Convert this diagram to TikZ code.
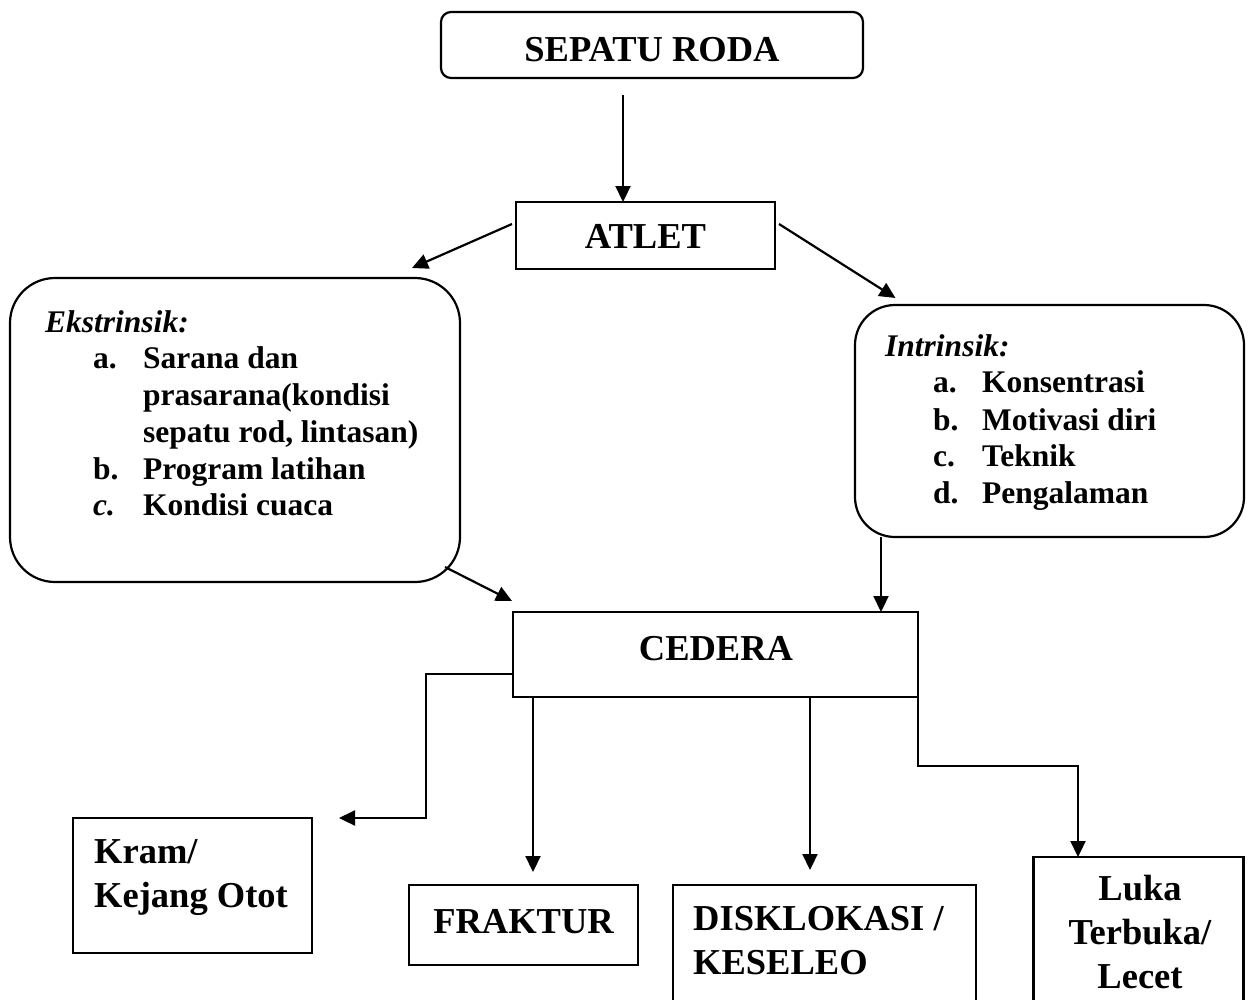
\documentclass[tikz,border=0pt]{standalone}
\usepackage{fontspec}
\setmainfont{Liberation Serif}
\usetikzlibrary{arrows.meta,calc}
\tikzset{
  frame/.style={draw, line width=2.2pt, inner sep=0pt, outer sep=0pt},
  hd/.style={font=\fontsize{36.5}{44}\selectfont\bfseries, inner sep=0pt, anchor=base},
  ls/.style={font=\fontsize{31.5}{37}\selectfont\bfseries, inner sep=0pt, anchor=base west},
  arr/.style={line width=2.2pt, -{Triangle[length=16pt,width=15pt]}},
}
\begin{document}
\begin{tikzpicture}[x=1pt,y=-1pt]
\useasboundingbox (0,0) rectangle (1248,999);
\clip (0,0) rectangle (1248,999);
% boxes
\node[frame, rounded corners=10pt, minimum width=422pt, minimum height=66pt] (top) at (652,45) {};
\node[hd] (ttop) at (652,61) {SEPATU RODA};
\node[frame, minimum width=259pt, minimum height=67pt] (atlet) at (645.5,235.5) {};
\node[hd] (tatlet) at (645.5,248) {ATLET};
\node[frame, rounded corners=45pt, minimum width=450pt, minimum height=304pt] (ekst) at (235,430) {};
\node[frame, rounded corners=40pt, minimum width=389pt, minimum height=232pt] (intr) at (1049.5,421) {};
\node[frame, minimum width=405pt, minimum height=85pt] (cedera) at (715.5,654.5) {};
\node[hd] (tced) at (716,660) {CEDERA};
\node[frame, minimum width=239pt, minimum height=135pt] (kram) at (192.5,885.5) {};
\node[frame, minimum width=229pt, minimum height=80pt] (frak) at (523.5,925) {};
\node[frame, minimum width=303pt, minimum height=130pt] (disk) at (824.5,950) {};
\node[frame, minimum width=210pt, minimum height=160pt] (luka) at (1138.5,937) {};
% ekstrinsik text
\node[ls, font=\fontsize{31.5}{37}\selectfont\bfseries\itshape] (e0) at (45,332) {Ekstrinsik:};
\node[ls] (e1l) at (93,368) {a.};
\node[ls] (e1) at (143,368) {Sarana dan};
\node[ls] (e2) at (143,405) {prasarana(kondisi};
\node[ls] (e3) at (143,442) {sepatu rod, lintasan)};
\node[ls] (e4l) at (93,479) {b.};
\node[ls] (e4) at (143,479) {Program latihan};
\node[ls, font=\fontsize{31.5}{37}\selectfont\bfseries\itshape] (e5l) at (93,515) {c.};
\node[ls] (e5) at (143,515) {Kondisi cuaca};
% intrinsik text
\node[ls, font=\fontsize{31.5}{37}\selectfont\bfseries\itshape] (i0) at (885,356) {Intrinsik:};
\node[ls] (i1l) at (933,392) {a.};
\node[ls] (i1) at (982,392) {Konsentrasi};
\node[ls] (i2l) at (933,430) {b.};
\node[ls] (i2) at (982,430) {Motivasi diri};
\node[ls] (i3l) at (933,466) {c.};
\node[ls] (i3) at (982,466) {Teknik};
\node[ls] (i4l) at (933,503) {d.};
\node[ls] (i4) at (982,503) {Pengalaman};
% lower texts
\node[hd, anchor=base west] (k1) at (94,863) {Kram/};
\node[hd, anchor=base west] (k2) at (94,907) {Kejang Otot};
\node[hd] (tfrak) at (523.5,933) {FRAKTUR};
\node[hd, anchor=base west] (d1) at (693,930) {DISKLOKASI /};
\node[hd, anchor=base west] (d2) at (693,974) {KESELEO};
\node[hd] (l1) at (1140,900) {Luka};
\node[hd] (l2) at (1140,944) {Terbuka/};
\node[hd] (l3) at (1140,988) {Lecet};
% connectors
\coordinate (kramtip) at ([xshift=27pt]kram.north east);
\draw[arr] ([shift={(-29,17)}]top.south) -- ([xshift=-22.5pt]atlet.north);
\draw[arr] ([shift={(-4,-11.5)}]atlet.west) -- ([shift={(177,-10)}]ekst.north);
\draw[arr] ([shift={(4,-11.5)}]atlet.east) -- ([shift={(-154,-7)}]intr.north);
\draw[arr] ([shift={(-15,-15)}]ekst.south east) -- ([shift={(-1,-11)}]cedera.north west);
\draw[arr] ([xshift=-168.5pt]intr.south) -- ([xshift=165.5pt]cedera.north);
\draw[arr] ([shift={(0,19.5)}]cedera.west) -- ++(-87,0) |- (kramtip);
\draw[arr] ([xshift=20pt]cedera.south west) -- ([shift={(9.5,-13)}]frak.north);
\draw[arr] ([xshift=-108pt]cedera.south east) -- ([shift={(-14.5,-15)}]disk.north);
\draw[arr] (cedera.south east) -- ++(0,69) -| ([xshift=-60.5pt]luka.north);
\end{tikzpicture}
\end{document}
